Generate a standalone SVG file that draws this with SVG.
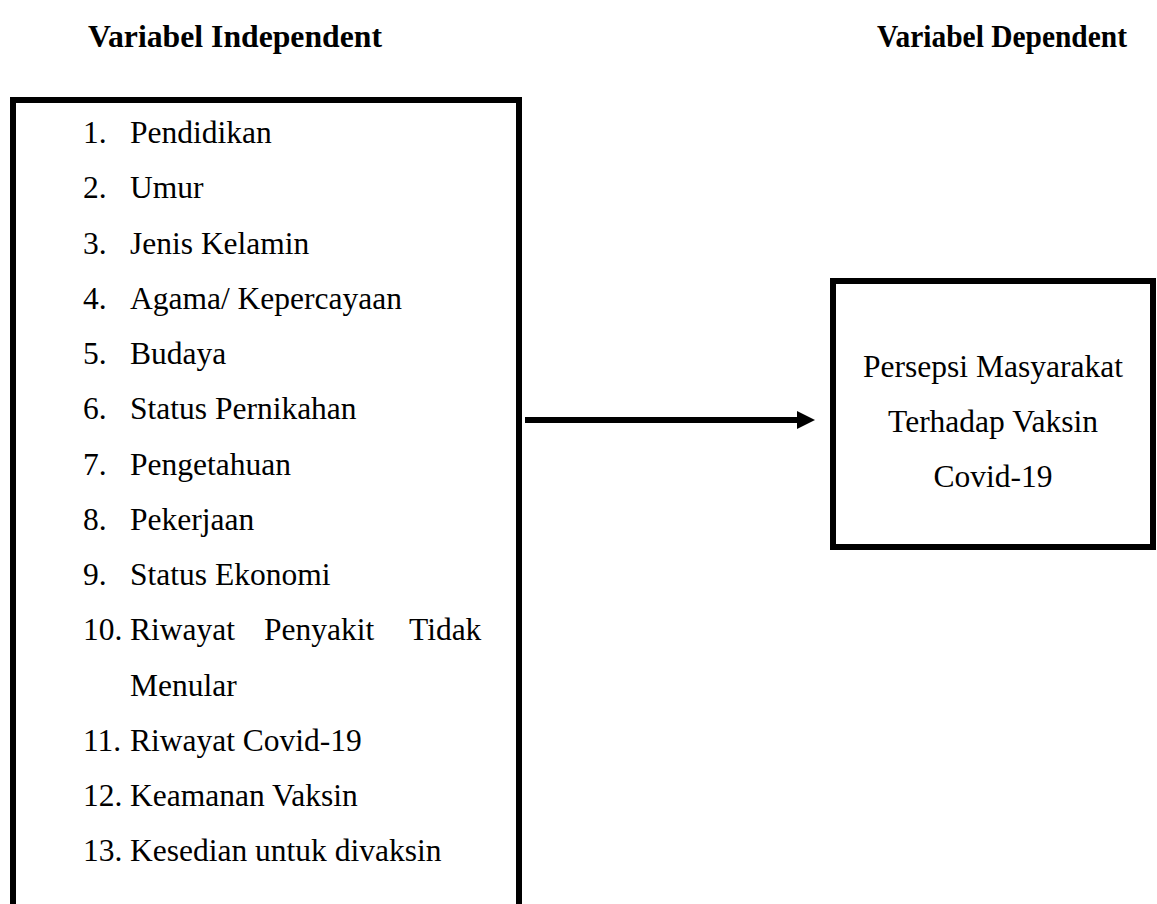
<svg xmlns="http://www.w3.org/2000/svg" width="1157" height="904" viewBox="0 0 1157 904">
<style>
.t{font-family:"Liberation Serif","Times New Roman",serif;font-size:31.5px;fill:#000}
.h{font-family:"Liberation Serif","Times New Roman",serif;font-size:31px;font-weight:bold;fill:#000}
.box{fill:none;stroke:#000;stroke-width:6}
.c{text-anchor:middle}
</style>
<rect width="1157" height="904" fill="#fff"/>
<text class="h" x="88" y="47" textLength="294" lengthAdjust="spacingAndGlyphs">Variabel Independent</text>
<text class="h" x="877" y="47" textLength="250" lengthAdjust="spacingAndGlyphs">Variabel Dependent</text>
<g id="independent">
<rect class="box" x="13" y="100" width="506" height="820"/>
<text class="t" x="83" y="143">1.</text><text class="t" x="130" y="143">Pendidikan</text>
<text class="t" x="83" y="198">2.</text><text class="t" x="130" y="198">Umur</text>
<text class="t" x="83" y="253.5">3.</text><text class="t" x="130" y="253.5">Jenis Kelamin</text>
<text class="t" x="83" y="309">4.</text><text class="t" x="130" y="309">Agama/ Kepercayaan</text>
<text class="t" x="83" y="364">5.</text><text class="t" x="130" y="364">Budaya</text>
<text class="t" x="83" y="419">6.</text><text class="t" x="130" y="419">Status Pernikahan</text>
<text class="t" x="83" y="474.5">7.</text><text class="t" x="130" y="474.5">Pengetahuan</text>
<text class="t" x="83" y="530">8.</text><text class="t" x="130" y="530">Pekerjaan</text>
<text class="t" x="83" y="585">9.</text><text class="t" x="130" y="585">Status Ekonomi</text>
<text class="t" x="83" y="640">10.</text><text class="t" x="130" y="640">Riwayat</text><text class="t" x="264" y="640">Penyakit</text><text class="t" x="409" y="640">Tidak</text>
<text class="t" x="130" y="695.5">Menular</text>
<text class="t" x="83" y="751">11.</text><text class="t" x="130" y="751">Riwayat Covid-19</text>
<text class="t" x="83" y="806">12.</text><text class="t" x="130" y="806">Keamanan Vaksin</text>
<text class="t" x="83" y="861">13.</text><text class="t" x="130" y="861">Kesedian untuk divaksin</text>
</g>
<g id="dependent">
<rect class="box" x="833" y="281" width="320" height="266"/>
<text class="t c" x="993" y="377">Persepsi Masyarakat</text>
<text class="t c" x="993" y="432">Terhadap Vaksin</text>
<text class="t c" x="993" y="487">Covid-19</text>
</g>
<g id="connectors">
<line x1="525" y1="420" x2="798" y2="420" stroke="#000" stroke-width="6"/>
<polygon points="797,411 815,420 797,429" fill="#000"/>
</g>
</svg>
